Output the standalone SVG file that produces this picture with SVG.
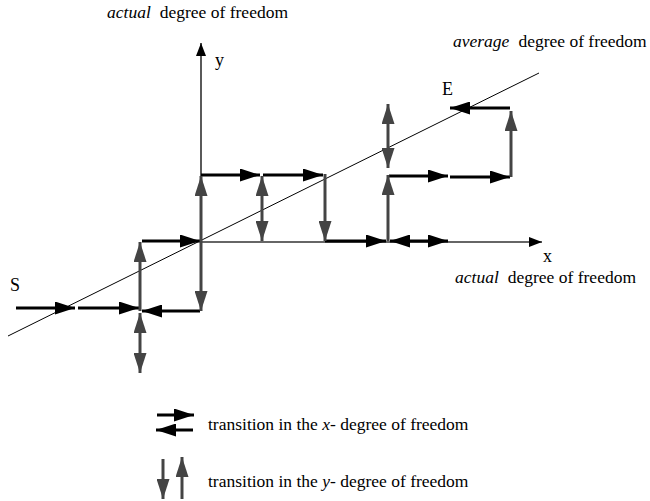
<svg xmlns="http://www.w3.org/2000/svg" width="650" height="501" viewBox="0 0 650 501">
<style>
text{font-family:"Liberation Serif","Times New Roman",serif;fill:#000}
.lbl{font-size:17.5px}
.big{font-size:18px}
.it{font-style:italic}
.bx{stroke:#000;stroke-width:3;fill:none;marker-end:url(#ab)}
.bxd{stroke:#000;stroke-width:3;fill:none;marker-end:url(#ab);marker-start:url(#ab)}
.gy{stroke:#444;stroke-width:3;fill:none;marker-end:url(#ag)}
.gyd{stroke:#444;stroke-width:3;fill:none;marker-end:url(#ag);marker-start:url(#ag)}
.axis{stroke:#000;stroke-width:1.3;fill:none;marker-end:url(#ax)}
</style>
<defs>
<marker id="ab" markerUnits="userSpaceOnUse" markerWidth="20" markerHeight="13" refX="20" refY="6.5" orient="auto-start-reverse"><path d="M0,0L20,6.5L0,13z" fill="#000"/></marker>
<marker id="ag" markerUnits="userSpaceOnUse" markerWidth="20" markerHeight="13" refX="20" refY="6.5" orient="auto-start-reverse"><path d="M0,0L20,6.5L0,13z" fill="#444"/></marker>
<marker id="ax" markerUnits="userSpaceOnUse" markerWidth="13" markerHeight="10" refX="13" refY="5" orient="auto"><path d="M0,0L13,5L0,10z" fill="#000"/></marker>
</defs>
<rect width="650" height="501" fill="#fff"/>

<g id="axes">
<line class="axis" x1="201" y1="242" x2="201" y2="43"/>
<line class="axis" x1="201" y1="242" x2="542" y2="242" style="stroke:#333"/>
<line x1="8" y1="336" x2="539" y2="73" stroke="#000" stroke-width="1"/>
</g>

<g id="connectors">
<line class="bx" x1="16" y1="308" x2="75" y2="308"/>
<line class="bx" x1="78" y1="308" x2="139" y2="308"/>
<line class="bx" x1="200" y1="311" x2="142" y2="311"/>
<line class="bx" x1="142" y1="241" x2="200" y2="241"/>
<line class="bx" x1="201" y1="175" x2="260" y2="175"/>
<line class="bx" x1="263" y1="175" x2="323" y2="175"/>
<line class="bx" x1="325" y1="241" x2="386" y2="241"/>
<line class="bxd" x1="390" y1="241" x2="448" y2="241"/>
<line class="bx" x1="389" y1="176" x2="448" y2="176"/>
<line class="bx" x1="450" y1="177" x2="510" y2="177"/>
<line class="bx" x1="510" y1="108" x2="450" y2="108"/>
<line class="gy" x1="140" y1="311" x2="140" y2="242"/>
<line class="gyd" x1="140" y1="313" x2="140" y2="373"/>
<line class="gy" x1="201" y1="242" x2="201" y2="176"/>
<line class="gy" x1="201" y1="242" x2="201" y2="311"/>
<line class="gyd" x1="262" y1="176" x2="262" y2="241"/>
<line class="gy" x1="325" y1="174" x2="325" y2="241"/>
<line class="gy" x1="388" y1="241" x2="388" y2="175"/>
<line class="gyd" x1="388" y1="104" x2="388" y2="168"/>
<line class="gy" x1="511" y1="177" x2="511" y2="111"/>
</g>

<g id="labels">
<text class="big" x="10" y="291">S</text>
<text class="big" x="442" y="95">E</text>
<text class="big" x="215" y="66">y</text>
<text class="big" x="543" y="262">x</text>
<text class="lbl" x="107" y="18"><tspan class="it">actual</tspan><tspan dx="9">degree of freedom</tspan></text>
<text class="lbl" x="453" y="47"><tspan class="it">average</tspan><tspan dx="9">degree of freedom</tspan></text>
<text class="lbl" x="455" y="283"><tspan class="it">actual</tspan><tspan dx="9">degree of freedom</tspan></text>
</g>

<g id="legend">
<line class="bx" x1="157" y1="415" x2="194" y2="415"/>
<line class="bx" x1="193" y1="430" x2="156" y2="430"/>
<text class="lbl" x="208" y="430">transition in the <tspan class="it">x</tspan>- degree of freedom</text>
<line class="gy" x1="163" y1="459" x2="163" y2="499"/>
<line class="gy" x1="182" y1="499" x2="182" y2="457"/>
<text class="lbl" x="208" y="487">transition in the <tspan class="it">y</tspan>- degree of freedom</text>
</g>
</svg>
